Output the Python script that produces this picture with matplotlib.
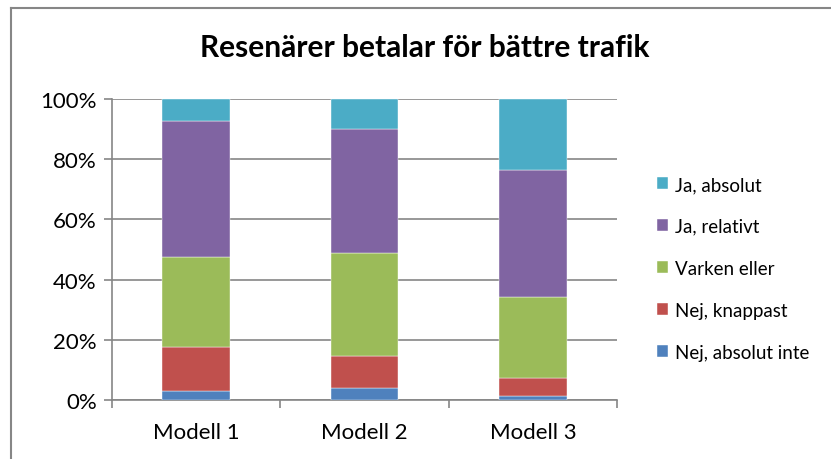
import matplotlib
matplotlib.use("Agg")
import matplotlib.pyplot as plt
from matplotlib.lines import Line2D
from matplotlib.ticker import FixedLocator, PercentFormatter

plt.rcParams['font.family'] = ['Lato', 'DejaVu Sans']

categories = ["Modell 1", "Modell 2", "Modell 3"]
series_names = ["Nej, absolut inte", "Nej, knappast", "Varken eller", "Ja, relativt", "Ja, absolut"]
nej_absolut_inte = [3.1, 4.0, 1.2]
nej_knappast = [14.6, 10.5, 6.2]
varken_eller = [29.8, 34.2, 26.8]
ja_relativt = [45.1, 41.4, 42.3]
ja_absolut = [7.4, 9.9, 23.5]
series_values = [nej_absolut_inte, nej_knappast, varken_eller, ja_relativt, ja_absolut]
colors = ["#4F81BD", "#C0504D", "#9BBB59", "#8064A2", "#4BACC6"]

W, H = 831, 460
fig = plt.figure(figsize=(W / 100, H / 100), dpi=100)

# chart frame: left and top edges
frame_x = 10.5 / W
frame_y = 1 - 8.5 / H
fig.lines.append(Line2D([frame_x, frame_x], [0, frame_y], transform=fig.transFigure,
                        color="#868686", linewidth=1.5))
fig.lines.append(Line2D([frame_x, 1], [frame_y, frame_y], transform=fig.transFigure,
                        color="#868686", linewidth=1.5))

ax = fig.add_axes([112 / W, 1 - 401 / H, (617 - 112) / W, (401 - 100) / H])

x = list(range(len(categories)))
bottom = [0.0] * len(categories)
handles = []
for name, vals, col in zip(series_names, series_values, colors):
    b = ax.bar(x, vals, width=0.4, bottom=bottom, color=col, label=name,
               edgecolor="white", linewidth=0.3, zorder=3)
    handles.append(b)
    bottom = [bo + v for bo, v in zip(bottom, vals)]

ax.set_xlim(-0.5, len(categories) - 0.5)
ax.set_ylim(0, 100)
ax.yaxis.set_major_locator(FixedLocator([0, 20, 40, 60, 80, 100]))
ax.yaxis.set_major_formatter(PercentFormatter(decimals=0))
ax.grid(axis="y", color="#868686", linewidth=1.2, zorder=0)

ax.set_xticks(x)
ax.set_xticklabels(categories)
ax.xaxis.set_minor_locator(FixedLocator([i - 0.5 for i in range(len(categories) + 1)]))
ax.tick_params(axis="x", which="major", length=0, pad=16, labelsize=16)
ax.tick_params(axis="x", which="minor", length=6, width=1.2, color="#868686")
ax.tick_params(axis="y", length=6, width=1.2, color="#868686", pad=5, labelsize=16)

for side in ["top", "right"]:
    ax.spines[side].set_visible(False)
for side in ["left", "bottom"]:
    ax.spines[side].set_color("#868686")
    ax.spines[side].set_linewidth(1.2)

fig.text(425 / W, 1 - 48 / H, "Resenärer betalar för bättre trafik",
         ha="center", va="center", fontsize=21.5, fontweight="bold")

fig.legend(handles[::-1], series_names[::-1], loc="upper left",
           bbox_to_anchor=(640 / W, 1 - 160 / H), frameon=False,
           fontsize=13.5, handlelength=0.6, handleheight=0.6,
           handletextpad=0.35, labelspacing=1.33)

fig.savefig("out.png", dpi=100)
